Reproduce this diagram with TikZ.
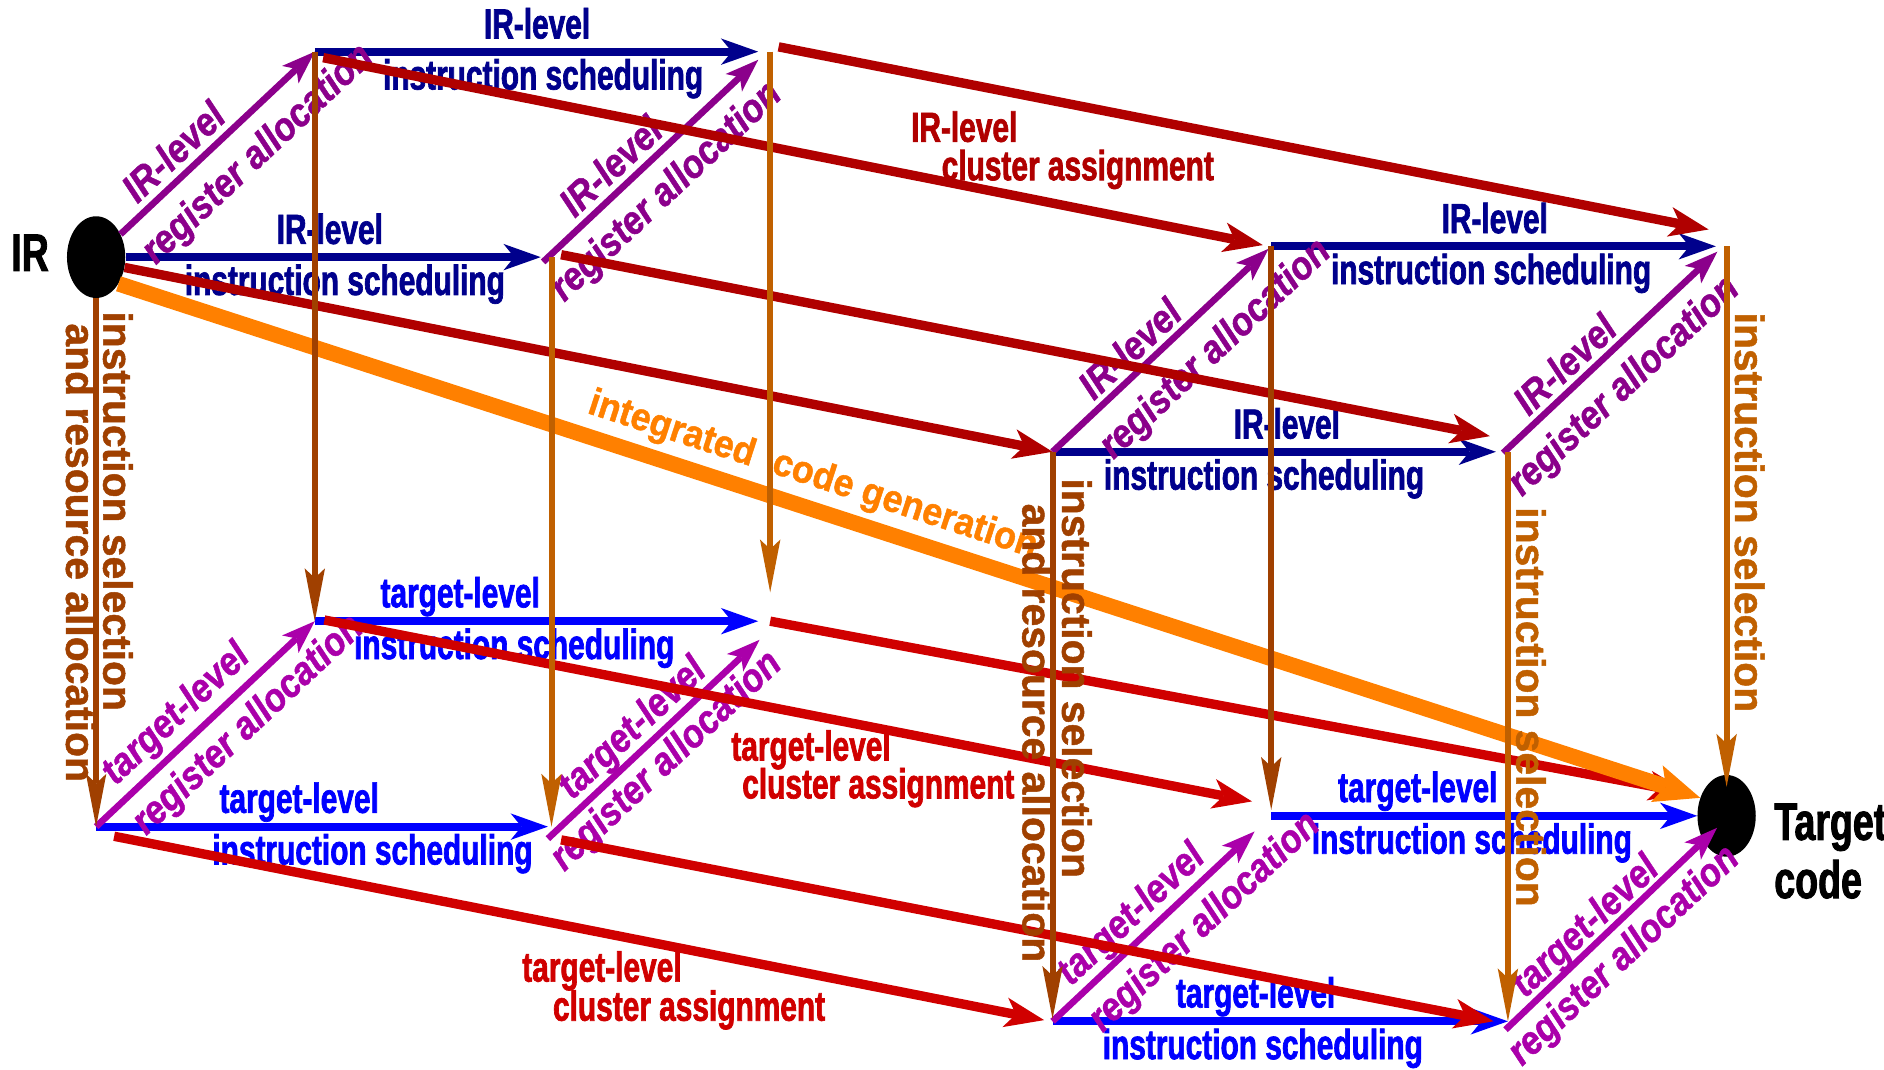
\documentclass[tikz,border=0pt]{standalone}
\usepackage{fontspec}
\setmainfont{Liberation Sans}[FakeBold=1.2]
\newfontfamily\narrowsans[FakeStretch=0.71,FakeBold=1.6]{Liberation Sans}
\newfontfamily\slantsans[FakeStretch=0.88,FakeBold=1.2]{Liberation Sans}
\newfontfamily\midsans[FakeStretch=0.93,FakeBold=1.2]{Liberation Sans}
\usetikzlibrary{arrows.meta,calc,shapes.geometric}

\definecolor{navyIR}{RGB}{0,0,140}
\definecolor{blueT}{RGB}{0,0,255}
\definecolor{purpIR}{RGB}{139,0,139}
\definecolor{purpT}{RGB}{170,0,170}
\definecolor{redIR}{RGB}{176,0,0}
\definecolor{redT}{RGB}{208,0,0}
\definecolor{orangeC}{RGB}{255,128,0}
\definecolor{brownD}{RGB}{160,64,0}
\definecolor{brownL}{RGB}{192,96,0}

\begin{document}
\begin{tikzpicture}[x=1pt,y=-1pt,
  dotnode/.style={ellipse, fill=black, draw=none, minimum width=48.5pt, minimum height=68pt, inner sep=0pt},
  isIR/.style={draw=navyIR, line width=6.4pt, -{Stealth[length=31pt,width=22pt,inset=9pt,line width=0pt]}},
  isT/.style={draw=blueT, line width=6.4pt, -{Stealth[length=31pt,width=22pt,inset=9pt,line width=0pt]}},
  raIR/.style={draw=purpIR, line width=5.5pt, -{Stealth[length=28pt,width=20pt,inset=7pt,line width=0pt]}},
  raT/.style={draw=purpT, line width=5.5pt, -{Stealth[length=28pt,width=20pt,inset=7pt,line width=0pt]}},
  clIR/.style={draw=redIR, line width=7.8pt, -{Stealth[length=33pt,width=25pt,inset=9pt,line width=0pt]}},
  clT/.style={draw=redT, line width=7.8pt, -{Stealth[length=33pt,width=25pt,inset=9pt,line width=0pt]}},
  intg/.style={draw=orangeC, line width=13pt, -{Stealth[length=38pt,width=32pt,inset=8pt,line width=0pt]}},
  selD/.style={draw=brownD, line width=5pt, -{Stealth[length=44pt,width=17pt,inset=8pt,line width=0pt]}},
  selL/.style={draw=brownL, line width=5pt, -{Stealth[length=44pt,width=17pt,inset=8pt,line width=0pt]}},
  hlbl/.style={font=\narrowsans\bfseries\fontsize{35}{40}\selectfont, anchor=base, inner sep=0pt},
  dlbl/.style={font=\slantsans\bfseries\itshape\fontsize{33}{38}\selectfont, rotate=43.2, inner sep=0pt},
  vlbl/.style={font=\bfseries\fontsize{34}{38}\selectfont, rotate=-90, anchor=base west, inner sep=0pt},
  olbl/.style={font=\midsans\bfseries\fontsize{32}{36}\selectfont, text=orangeC, rotate=-18, inner sep=0pt},
  endlbl/.style={font=\narrowsans\bfseries\fontsize{44}{48}\selectfont, inner sep=0pt},
]
\useasboundingbox (0,0) rectangle (1568,890);
\clip (0,0) rectangle (1568,890);

% corners of the two cubes
\node[dotnode] (A0) at (80,214) {};
\coordinate (A1) at (459,214);
\coordinate (A2) at (262,43);
\coordinate (A3) at (641,43);
\coordinate (B0) at (80,688);
\coordinate (B1) at (459,688);
\coordinate (B2) at (262,517);
\coordinate (B3) at (641,517);
\coordinate (C0) at (876,376);
\coordinate (C1) at (1255,376);
\coordinate (C2) at (1058,205);
\coordinate (C3) at (1437,205);
\coordinate (D0) at (876,850);
\coordinate (D1) at (1255,850);
\coordinate (D2) at (1058,679);
\node[dotnode] (D3) at (1437,679) {};

% instruction scheduling
\draw[isIR, shorten >=9pt] (A0) -- (A1);
\draw[isIR, shorten >=10pt] (A2) -- (A3);
\draw[isIR, shorten >=10pt] (C0) -- (C1);
\draw[isIR, shorten >=9pt] (C2) -- (C3);
\draw[isT, shorten >=3pt] (B0) -- (B1);
\draw[isT, shorten >=10pt] (B2) -- (B3);
\draw[isT] (D0) -- (D1);
\draw[isT] (D2) -- (D3);

% register allocation
\draw[raIR] (A0) -- (A2);
\draw[raIR, shorten >=4pt] ($(A1)+(-7,4)$) -- ($(A3)+(-7,4)$);
\draw[raIR, shorten >=3pt] (C0) -- (C2);
\draw[raIR, shorten >=5pt] ($(C1)+(-4,1)$) -- ($(C3)+(-4,1)$);
\draw[raT] (B0) -- (B2);
\draw[raT, shorten >=8pt] ($(B1)+(-3,10)$) -- ($(B3)+(-3,10)$);
\draw[raT, shorten >=19pt] (D0) -- (D2);
\draw[raT] ($(D1)+(-2,7)$) -- ($(D3)+(-8,10)$);

% scheduling labels
\node[hlbl, text=navyIR] (sA2) at (447,32) {IR-level};
\node[hlbl, text=navyIR] (sA2b) at (452,74.5) {instruction scheduling};
\node[hlbl, text=navyIR] (sA0) at (274.5,203) {IR-level};
\node[hlbl, text=navyIR] (sA0b) at (287,245.5) {instruction scheduling};
\node[hlbl, text=navyIR] (sC2) at (1244,194) {IR-level};
\node[hlbl, text=navyIR] (sC2b) at (1241,236.5) {instruction scheduling};
\node[hlbl, text=navyIR] (sC0) at (1071,365) {IR-level};
\node[hlbl, text=navyIR] (sC0b) at (1052,407.5) {instruction scheduling};
\node[hlbl, text=blueT] (sB2) at (383,505.5) {target-level};
\node[hlbl, text=blueT] (sB2b) at (428,548.5) {instruction scheduling};
\node[hlbl, text=blueT] (sB0) at (249,676.5) {target-level};
\node[hlbl, text=blueT] (sB0b) at (310,719.5) {instruction scheduling};
\node[hlbl, text=blueT] (sD2) at (1180,667.5) {target-level};
\node[hlbl, text=blueT] (sD2b) at (1225,710.5) {instruction scheduling};
\node[hlbl, text=blueT] (sD0) at (1045,838.5) {target-level};
\node[hlbl, text=blueT] (sD0b) at (1051,881.5) {instruction scheduling};

% register allocation labels
\node[dlbl, text=purpIR] (rA0) at (144,126) {IR-level};
\node[dlbl, text=purpIR] (rA0b) at (215,129) {register allocation};
\node[dlbl, text=purpIR] (rA1) at (508,138) {IR-level};
\node[dlbl, text=purpIR] (rA1b) at (555,160) {register allocation};
\node[dlbl, text=purpIR] (rC0) at (940,290) {IR-level};
\node[dlbl, text=purpIR] (rC0b) at (1012,291) {register allocation};
\node[dlbl, text=purpIR] (rC1) at (1302,303) {IR-level};
\node[dlbl, text=purpIR] (rC1b) at (1352,322) {register allocation};
\node[dlbl, text=purpT] (rB0) at (147,595) {target-level};
\node[dlbl, text=purpT] (rB0b) at (207,604) {register allocation};
\node[dlbl, text=purpT] (rB1) at (527,607) {target-level};
\node[dlbl, text=purpT] (rB1b) at (555,634) {register allocation};
\node[dlbl, text=purpT] (rD0) at (942,762) {target-level};
\node[dlbl, text=purpT] (rD0b) at (1003,768) {register allocation};
\node[dlbl, text=purpT] (rD1) at (1320,772) {target-level};
\node[dlbl, text=purpT] (rD1b) at (1352,796) {register allocation};

% cluster assignment
\draw[clIR] (A0.-20) -- (C0);
\draw[clIR] ($(A1)+(8,-2)$) -- ($(C1)+(-15,-13)$);
\draw[clIR] ($(A2)+(7,5)$) -- ($(C2)+(-7,-1)$);
\draw[clIR] ($(A3)+(7,-4)$) -- ($(C3)+(-15,-14)$);
\draw[clT] ($(B0)+(15,8)$) -- ($(D0)+(-7,-1)$);
\draw[clT] ($(B1)+(8,11)$) -- ($(D1)+(-12,0)$);
\draw[clT] ($(B2)+(8,-1)$) -- ($(D2)+(-16,-12)$);
\draw[clT] (B3) -- ($(D3)+(-32,-19)$);

\node[hlbl, text=redIR] (cIR) at (802.5,118) {IR-level};
\node[hlbl, text=redIR] (cIRb) at (897,150) {cluster assignment};
\node[hlbl, text=redT] (cT1) at (675,633) {target-level};
\node[hlbl, text=redT] (cT1b) at (731,664.5) {cluster assignment};
\node[hlbl, text=redT] (cT2) at (501,817) {target-level};
\node[hlbl, text=redT] (cT2b) at (573.5,849.5) {cluster assignment};

% integrated code generation
\draw[intg] (A0.-50) -- ($(D3)+(-22,-15)$);
\node[olbl] (ig1) at (559,358) {integrated};
\node[olbl] (ig2) at (753,421) {code generation};

% instruction selection
\draw[selD] (A0) -- (B0);
\draw[selD] (A2) -- (B2);
\draw[selD, shorten >=2pt] (C0) -- (D0);
\draw[selD, shorten >=5pt] (C2) -- (D2);
\draw[selL] (A1) -- (B1);
\draw[selL, shorten >=24pt] (A3) -- (B3);
\draw[selL] (C1) -- (D1);
\draw[selL, shorten >=-10pt] (C3) -- (D3);

\node[vlbl, text=brownD] (vA0) at (86,259) {instruction selection};
\node[vlbl, text=brownD] (vA0b) at (55,269) {and resource allocation};
\node[vlbl, text=brownD] (vC0) at (884,398) {instruction selection};
\node[vlbl, text=brownD] (vC0b) at (851,419) {and resource allocation};
\node[vlbl, text=brownL] (vC1) at (1262,422) {instruction selection};
\node[vlbl, text=brownL] (vC3) at (1444,260) {instruction selection};

% end points
\node[endlbl, anchor=base] (irlbl) at (25,225.5) {IR};
\node[endlbl, anchor=base west] (tg1) at (1476.5,699) {Target};
\node[endlbl, anchor=base west] (tg2) at (1476.5,747.5) {code};
\end{tikzpicture}
\end{document}
